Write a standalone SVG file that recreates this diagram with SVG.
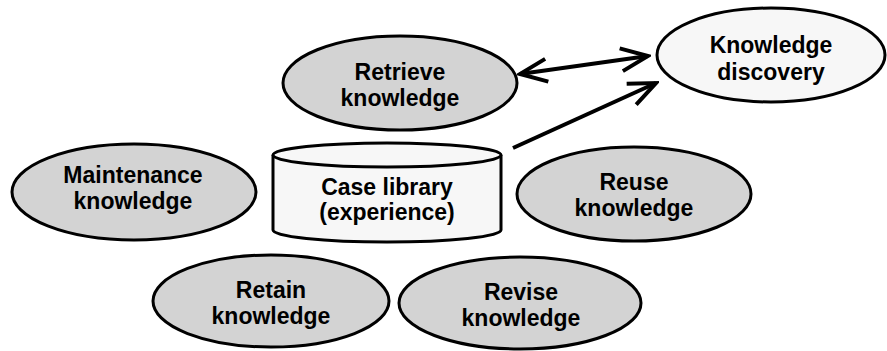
<svg xmlns="http://www.w3.org/2000/svg" width="887" height="351" viewBox="0 0 887 351">
  <style>
    .gray { fill: #d3d3d3; stroke: #000; stroke-width: 3; }
    .light { fill: #f7f7f7; stroke: #000; stroke-width: 3; }
    .lbl { font-family: "Liberation Sans", Arial, sans-serif; font-weight: bold; font-size: 23px; fill: #000; text-anchor: middle; }
    .conn { stroke: #000; stroke-width: 4; fill: none; }
  </style>
  <defs>
    <marker id="open" viewBox="0 0 33 28" refX="30" refY="14" markerWidth="33" markerHeight="28" markerUnits="userSpaceOnUse" orient="auto-start-reverse">
      <path d="M3 2.5 L30 14 L3 25.5" fill="none" stroke="#000" stroke-width="4" stroke-linecap="butt" stroke-linejoin="miter"/>
    </marker>
  </defs>
  <rect width="887" height="351" fill="#fff"/>

  <g id="retrieve">
    <ellipse class="gray" cx="400" cy="83" rx="117" ry="47"/>
    <text class="lbl" x="400" y="80">Retrieve</text>
    <text class="lbl" x="400" y="106">knowledge</text>
  </g>

  <g id="discovery">
    <ellipse class="light" cx="771" cy="55" rx="114" ry="47"/>
    <text class="lbl" x="771" y="53">Knowledge</text>
    <text class="lbl" x="771" y="80">discovery</text>
  </g>

  <g id="case-library">
    <path class="light" d="M273 155 L273 230 A114 12 0 0 0 501 230 L501 155"/>
    <ellipse class="light" cx="387" cy="155" rx="114" ry="12"/>
    <text class="lbl" x="387" y="195">Case library</text>
    <text class="lbl" x="387" y="220">(experience)</text>
  </g>

  <g id="maintenance">
    <ellipse class="gray" cx="134" cy="192" rx="122" ry="48"/>
    <text class="lbl" x="133" y="183">Maintenance</text>
    <text class="lbl" x="133" y="209">knowledge</text>
  </g>

  <g id="reuse">
    <ellipse class="gray" cx="634" cy="194" rx="117" ry="47"/>
    <text class="lbl" x="634" y="190">Reuse</text>
    <text class="lbl" x="634" y="216">knowledge</text>
  </g>

  <g id="retain">
    <ellipse class="gray" cx="271" cy="301" rx="118" ry="46"/>
    <text class="lbl" x="271" y="298">Retain</text>
    <text class="lbl" x="271" y="324">knowledge</text>
  </g>

  <g id="revise">
    <ellipse class="gray" cx="520" cy="303" rx="121" ry="46"/>
    <text class="lbl" x="521" y="300">Revise</text>
    <text class="lbl" x="521" y="326">knowledge</text>
  </g>

  <g id="connectors">
    <line class="conn" x1="520" y1="74" x2="648" y2="56" marker-start="url(#open)" marker-end="url(#open)"/>
    <line class="conn" x1="513" y1="148" x2="656" y2="83" marker-end="url(#open)"/>
  </g>
</svg>
